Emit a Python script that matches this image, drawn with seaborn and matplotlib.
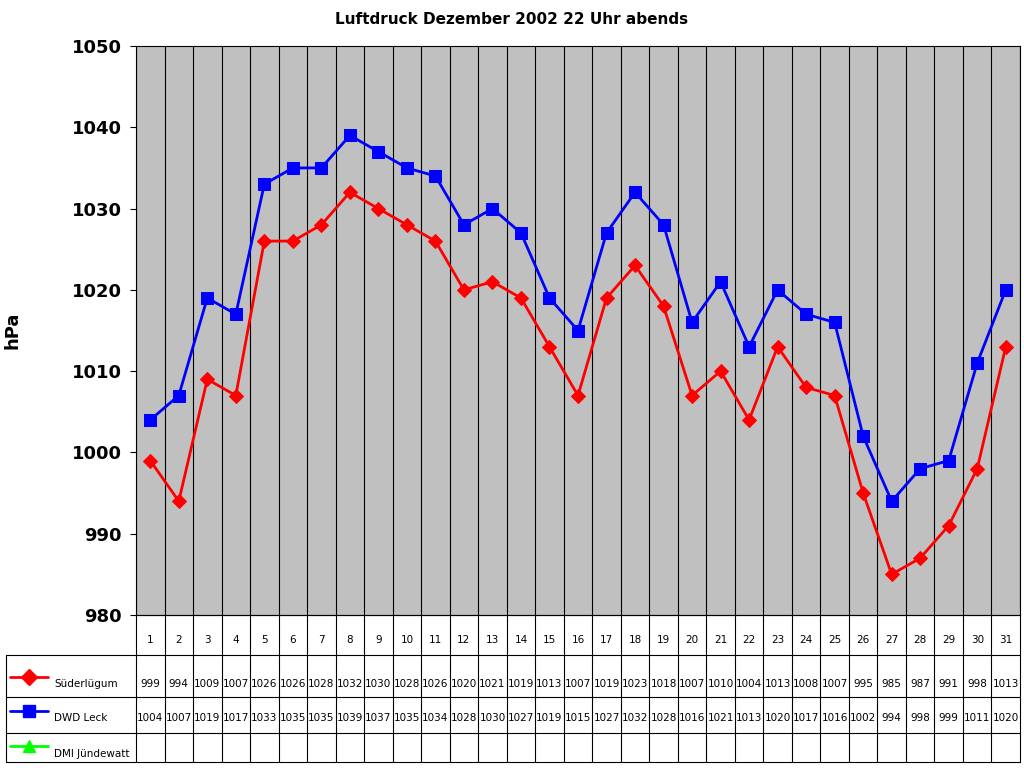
import matplotlib
matplotlib.use("Agg")
import matplotlib.pyplot as plt
import seaborn as sns
import pandas as pd
import numpy as np

days = list(range(1, 32))
suederluegum = [999, 994, 1009, 1007, 1026, 1026, 1028, 1032, 1030, 1028, 1026, 1020, 1021, 1019, 1013,
                1007, 1019, 1023, 1018, 1007, 1010, 1004, 1013, 1008, 1007, 995, 985, 987, 991, 998, 1013]
dwd_leck = [1004, 1007, 1019, 1017, 1033, 1035, 1035, 1039, 1037, 1035, 1034, 1028, 1030, 1027, 1019,
            1015, 1027, 1032, 1028, 1016, 1021, 1013, 1020, 1017, 1016, 1002, 994, 998, 999, 1011, 1020]
series_names = ["Süderlügum", "DWD Leck", "DMI Jündewatt"]
colors = ["#FF0000", "#0000FF", "#00FF00"]
markers = ["D", "s", "^"]

sns.set_style("white")
plt.rcParams['font.family'] = ['DejaVu Sans']
plt.rcParams['text.color'] = 'black'
plt.rcParams['axes.labelcolor'] = 'black'
plt.rcParams['ytick.color'] = 'black'

W, H = 1024, 768
fig = plt.figure(figsize=(W/100, H/100), dpi=100)
L, R, T, B = 136, 1020, 46, 615
ax = fig.add_axes([L/W, 1-B/H, (R-L)/W, (B-T)/H])
ax.set_facecolor("#C0C0C0")
x = np.arange(len(days)) + 0.5
df = pd.DataFrame({"x": x, "S": suederluegum, "D": dwd_leck})
sns.lineplot(data=df, x="x", y="S", ax=ax, color=colors[0], marker=markers[0], markersize=7,
             markeredgecolor=colors[0], linewidth=2)
sns.lineplot(data=df, x="x", y="D", ax=ax, color=colors[1], marker=markers[1], markersize=8,
             markeredgecolor=colors[1], linewidth=2)
ax.set_xlim(0, 31)
ax.set_ylim(980, 1050)
ax.set_yticks(range(980, 1051, 10))
ax.set_xticks(range(0, 32))
ax.set_xticklabels([])
ax.tick_params(axis='x', length=0)
ax.tick_params(axis='y', labelsize=13, length=4, direction='out', left=True, pad=6)
for lab in ax.get_yticklabels():
    lab.set_fontweight('bold')
ax.grid(axis='x', color='black', linewidth=0.8)
ax.set_xlabel("")
ax.set_ylabel("hPa", fontsize=13, fontweight='bold')
ax.yaxis.set_label_coords((22-L)/(R-L), 0.5)
for s in ax.spines.values():
    s.set_color('black'); s.set_linewidth(0.8)
fig.text(0.5, 1-20/H, "Luftdruck Dezember 2002 22 Uhr abends", ha='center', va='center',
         fontsize=11, fontweight='bold')

# data table
tb = 762
tax = fig.add_axes([L/W, 1-tb/H, (R-L)/W, (tb-B)/H])
tax.set_xlim(0, 31)
tax.set_ylim(tb, B)
tax.axis('off')
rows = [615, 655, 697, 733, 762]
xl = (6-L)/(R-L)*31
for i in range(32):
    tax.plot([i, i], [B, tb], color='black', lw=0.8, clip_on=False)
for j, yv in enumerate(rows):
    x0 = 0 if j == 0 else xl
    tax.plot([x0, 31], [yv, yv], color='black', lw=0.8, clip_on=False)
tax.plot([xl, xl], [655, tb], color='black', lw=0.8, clip_on=False)
for i, d in enumerate(days):
    tax.text(i+0.5, 640, str(d), ha='center', va='center', fontsize=7.5)
    tax.text(i+0.5, 684, str(suederluegum[i]), ha='center', va='center', fontsize=7.5)
    tax.text(i+0.5, 718, str(dwd_leck[i]), ha='center', va='center', fontsize=7.5)
ylab = [684, 718, 754]
ymark = [677, 711, 746]
for k in range(3):
    lx = xl + (4/884)*31
    sx = lx + (38/884)*31
    tax.plot([lx, sx], [ymark[k], ymark[k]], color=colors[k], lw=2, clip_on=False)
    tax.plot([(lx+sx)/2], [ymark[k]], marker=markers[k], color=colors[k], markersize=8, clip_on=False)
    tax.text(sx + (6/884)*31, ylab[k], series_names[k], ha='left', va='center', fontsize=7.5)

fig.savefig("out.png", dpi=100)
